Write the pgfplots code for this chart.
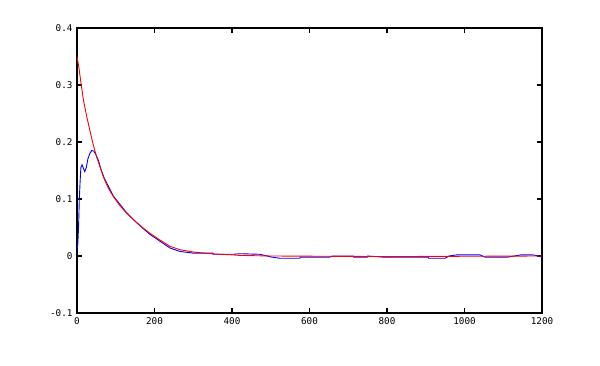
\documentclass[border=0pt]{standalone}
\usepackage{fontspec}
\setmonofont{DejaVu Sans Mono}
\usepackage{pgfplots}
\pgfplotsset{compat=1.18}
\begin{document}
\begin{tikzpicture}
\begin{axis}[
  scale only axis, width=465pt, height=285pt,
  xmin=0, xmax=1200, ymin=-0.1, ymax=0.4,
  xtick={0,200,...,1200}, ytick={-0.1,0,0.1,0.2,0.3,0.4},
  yticklabels={-0.1,0,0.1,0.2,0.3,0.4},
  tick align=inside, tick pos=both,
  major tick length=5pt,
  axis line style={line width=1.2pt},
  every tick/.style={black, line width=1.2pt},
  tick label style={font=\fontsize{9.3}{10}\selectfont\ttfamily},
  /pgf/number format/assume math mode=true,
  /pgf/number format/1000 sep={},
  xticklabel style={yshift=-1pt},
  yticklabel style={xshift=-1pt},
  clip=true,
]
\addplot[blue, line width=0.9pt] coordinates {
(0,0.01)(2,0.02)(4,0.05)(6,0.10)(8,0.13)(10,0.155)(13,0.16)(16,0.155)(20,0.148)(24,0.155)(28,0.17)(33,0.18)(38,0.185)(43,0.184)(48,0.179)(55,0.168)
(62,0.152)(70,0.137)(94,0.105)(128,0.076)(150,0.061)(171,0.048)(188,0.038)(214,0.026)(240,0.014)(266,0.008)(300,0.005)(351,0.005)(352,0.003)(403,0.003)(421,0.004)(472,0.003)(503,-0.002)(524,-0.004)(575,-0.004)(576,-0.002)(652,-0.002)(660,0)(713,0)(714,-0.002)(749,-0.002)(750,0)(790,-0.002)(906,-0.002)(907,-0.004)(950,-0.004)(960,0)(980,0.002)(1040,0.002)(1053,-0.002)(1111,-0.002)(1146,0.002)(1176,0.002)(1190,0)(1200,-0.002)
};
\addplot[red, line width=0.9pt] coordinates {
(0,0.35)(5,0.33)(10,0.305)(16,0.276)(25,0.245)(33,0.221)(42,0.195)(51,0.173)(60,0.155)(68,0.139)(80,0.12)(94,0.104)(110,0.089)(128,0.075)(150,0.061)(171,0.049)(188,0.040)(214,0.028)(240,0.017)(266,0.011)(300,0.007)(343,0.004)(400,0.002)(420,0.001)(500,0)(800,-0.001)(1200,0)
};
\end{axis}
\pgfresetboundingbox
\useasboundingbox (-77pt,-53pt) rectangle (523pt,313pt);
\end{tikzpicture}
\end{document}
